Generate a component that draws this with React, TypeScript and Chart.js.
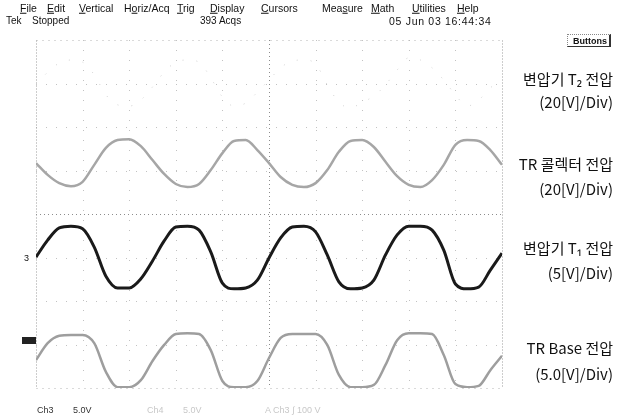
import React, { useEffect, useRef } from "react";
import { Chart, registerables } from "chart.js";

Chart.register(...registerables);

// time axis in screen divisions (10 horizontal divisions)
const timeDiv = [
  0, 0.25, 0.5, 0.75, 1, 1.25, 1.5, 1.75, 2, 2.25, 2.5, 2.75, 3, 3.25, 3.5, 3.75, 4, 4.25, 4.5, 4.75, 5,
  5.25, 5.5, 5.75, 6, 6.25, 6.5, 6.75, 7, 7.25, 7.5, 7.75, 8, 8.25, 8.5, 8.75, 9, 9.25, 9.5, 9.75, 10,
];

// trace levels in screen divisions (8 vertical divisions, 0 = bottom)
const t2Trace = [
  6.97, 7.26, 7.47, 7.54, 7.49, 7.2, 6.74, 6.51, 6.48, 6.62, 6.92, 7.26, 7.49, 7.54, 7.49, 7.13, 6.69, 6.48, 6.55, 6.8, 7.08,
  7.36, 7.52, 7.54, 7.45, 6.97, 6.57, 6.44, 6.57, 6.71, 6.97, 7.31, 7.59, 7.54, 7.36, 7.08, 6.74, 6.48, 6.62, 6.9, 7.08,
];
const collectorTrace = [
  5.17, 4.9, 4.71, 4.64, 4.74, 5.13, 5.52, 5.7, 5.72, 5.56, 5.24, 4.92, 4.69, 4.62, 4.69, 5.01, 5.4, 5.68, 5.7, 5.47, 5.17,
  4.85, 4.67, 4.62, 4.71, 5.01, 5.43, 5.68, 5.7, 5.54, 5.2, 4.87, 4.67, 4.62, 4.78, 5.13, 5.59, 5.7, 5.68, 5.47, 5.13,
];
const t1Trace = [
  3.01, 3.4, 3.68, 3.72, 3.66, 3.24, 2.57, 2.3, 2.3, 2.51, 2.92, 3.38, 3.7, 3.72, 3.63, 3.13, 2.41, 2.28, 2.3, 2.48, 2.99,
  3.45, 3.7, 3.72, 3.59, 3.06, 2.44, 2.28, 2.3, 2.48, 3.06, 3.52, 3.72, 3.72, 3.63, 3.17, 2.39, 2.28, 2.32, 2.71, 3.1,
];
const baseTrace = [
  0.64, 1.03, 1.2, 1.22, 1.22, 1.03, 0.37, 0.02, 0.02, 0.18, 0.62, 0.99, 1.24, 1.26, 1.24, 0.87, 0.16, 0.02, 0.02, 0.16, 0.69,
  1.15, 1.24, 1.24, 1.24, 0.99, 0.3, 0.02, 0.02, 0.07, 0.53, 1.1, 1.26, 1.26, 1.24, 0.76, 0.09, 0.02, 0.05, 0.41, 0.74,
];

const gridX = [0, 1, 2, 3, 4, 5, 6, 7, 8, 9, 10];
const gridY = [0, 1, 2, 3, 4, 5, 6, 7, 8];

const menuItems = ["File", "Edit", "Vertical", "Horiz/Acq", "Trig", "Display", "Cursors", "Measure", "Math", "Utilities", "Help"];
const menuMnemonic = [0, 0, 0, 1, 0, 0, 0, 3, 0, 0, 0];
const menuX = [20, 47, 79, 124, 177, 210, 261, 322, 371, 412, 457];

const labelLines = [
  "변압기 T₂ 전압", "(20[V]/Div)",
  "TR 콜렉터 전압", "(20[V]/Div)",
  "변압기 T₁ 전압", "(5[V]/Div)",
  "TR Base 전압", "(5.0[V]/Div)",
];
const labelY = [78, 101, 163, 188, 247, 272, 347, 373];

const toPoints = (vals: number[]) => vals.map((v, i) => ({ x: timeDiv[i], y: v }));

const graticule = {
  id: "graticule",
  beforeDatasetsDraw(chart: any) {
    const { ctx, chartArea, scales } = chart;
    const { left, right, top, bottom } = chartArea;
    const xs = scales.x;
    const ys = scales.y;
    const line = (x1: number, y1: number, x2: number, y2: number) => {
      ctx.beginPath();
      ctx.moveTo(x1, y1);
      ctx.lineTo(x2, y2);
      ctx.stroke();
    };
    ctx.save();
    ctx.lineWidth = 1;
    ctx.strokeStyle = "#c2c2c2";
    ctx.setLineDash([1, 9]);
    gridX.forEach((g) => {
      if (g === 0 || g === 10 || g === 5) return;
      const px = Math.round(xs.getPixelForValue(g)) + 0.5;
      line(px, top, px, bottom);
    });
    gridY.forEach((g) => {
      if (g === 0 || g === 8 || g === 4) return;
      const py = Math.round(ys.getPixelForValue(g)) + 0.5;
      line(left, py, right, py);
    });
    ctx.strokeStyle = "#8c8c8c";
    ctx.setLineDash([1, 3]);
    const cx = Math.round(xs.getPixelForValue(5)) + 0.5;
    const cy = Math.round(ys.getPixelForValue(4)) + 0.5;
    line(cx, top, cx, bottom);
    line(left, cy, right, cy);
    ctx.strokeStyle = "#9a9a9a";
    ctx.setLineDash([1, 2]);
    const l = Math.round(left) + 0.5;
    const r = Math.round(right) + 0.5;
    const t = Math.round(top) + 0.5;
    const b = Math.round(bottom) + 0.5;
    line(l, t, l, b);
    line(r, t, r, b);
    ctx.strokeStyle = "#b4b4b4";
    ctx.setLineDash([1, 5]);
    line(l, t, r, t);
    line(l, b, r, b);
    ctx.restore();
  },
};

type TxtProps = { x: number; y: number; children: React.ReactNode; size?: number; color?: string; right?: boolean; family?: string; weight?: number; spacing?: number };
const Txt = ({ x, y, children, size = 10, color = "#111", right, family, weight = 400, spacing = 0 }: TxtProps) => (
  <div
    style={{
      position: "absolute",
      top: y,
      ...(right ? { right: 625 - x } : { left: x }),
      transform: "translateY(-50%)",
      fontSize: size,
      lineHeight: 1,
      color,
      whiteSpace: "nowrap",
      fontWeight: weight,
      letterSpacing: spacing,
      fontFamily: family || '"Liberation Sans Narrow", "Liberation Sans", Arial, sans-serif',
    }}
  >
    {children}
  </div>
);

export default function App() {
  const canvasRef = useRef<HTMLCanvasElement | null>(null);

  useEffect(() => {
    if (!canvasRef.current) return;
    const chart = new Chart(canvasRef.current, {
      type: "line",
      data: {
        datasets: [
          {
            label: "변압기 T2 전압",
            data: toPoints(t2Trace),
            borderColor: "#d0d0d0",
            borderWidth: 1,
            borderDash: [1, 13],
            pointRadius: 0,
            cubicInterpolationMode: "monotone",
          },
          {
            label: "TR 콜렉터 전압",
            data: toPoints(collectorTrace),
            borderColor: "#a6a6a6",
            borderWidth: 2.5,
            pointRadius: 0,
            cubicInterpolationMode: "monotone",
          },
          {
            label: "TR Base 전압",
            data: toPoints(baseTrace),
            borderColor: "#9e9e9e",
            borderWidth: 2.5,
            pointRadius: 0,
            cubicInterpolationMode: "monotone",
          },
          {
            label: "변압기 T1 전압",
            data: toPoints(t1Trace),
            borderColor: "#1a1a1a",
            borderWidth: 3,
            pointRadius: 0,
            cubicInterpolationMode: "monotone",
          },
        ],
      },
      options: {
        animation: false,
        responsive: false,
        maintainAspectRatio: false,
        devicePixelRatio: 1,
        layout: { padding: { left: 36, right: 123, top: 40, bottom: 28 } },
        plugins: { legend: { display: false }, tooltip: { enabled: false } },
        scales: {
          x: { type: "linear", min: 0, max: 10, display: false },
          y: { type: "linear", min: 0, max: 8, display: false },
        },
      },
      plugins: [graticule],
    });
    return () => chart.destroy();
  }, []);

  const cjk = '"Noto Sans CJK KR", "Noto Sans", sans-serif';

  return (
    <div style={{ position: "fixed", left: 0, top: 0, width: 625, height: 416, background: "#fff", overflow: "hidden" }}>
      <canvas ref={canvasRef} width={625} height={416} style={{ position: "absolute", left: 0, top: 0, width: 625, height: 416 }} />
      {menuItems.map((m, i) => (
        <Txt key={m} x={menuX[i]} y={8} size={10.5}>
          {m.slice(0, menuMnemonic[i])}
          <u>{m[menuMnemonic[i]]}</u>
          {m.slice(menuMnemonic[i] + 1)}
        </Txt>
      ))}
      <Txt x={6} y={21} size={10}>Tek</Txt>
      <Txt x={32} y={21} size={10}>Stopped</Txt>
      <Txt x={200} y={21} size={10}>393 Acqs</Txt>
      <Txt x={389} y={21} size={10.5} spacing={0.7}>05 Jun 03 16:44:34</Txt>
      <div
        style={{
          position: "absolute",
          left: 567,
          top: 34,
          width: 44,
          height: 13,
          border: "1px dotted #888",
          borderRight: "2px solid #333",
          borderBottom: "1px solid #333",
          boxSizing: "border-box",
        }}
      />
      <Txt x={573} y={41} size={9} weight={700}>Buttons</Txt>
      {labelLines.map((s, i) => (
        <Txt key={i} x={613} y={labelY[i]} size={15} right family={cjk} color="#111">
          {s}
        </Txt>
      ))}
      <Txt x={24} y={258} size={9}>3</Txt>
      <div style={{ position: "absolute", left: 22, top: 337, width: 14, height: 7, background: "#222" }} />
      <Txt x={37} y={410} size={9} color="#333">Ch3</Txt>
      <Txt x={73} y={410} size={9} color="#333">5.0V</Txt>
      <Txt x={147} y={410} size={9} color="#c8c8c8">Ch4</Txt>
      <Txt x={183} y={410} size={9} color="#c8c8c8">5.0V</Txt>
      <Txt x={265} y={410} size={9} color="#c8c8c8">A  Ch3  ∫  100 V</Txt>
    </div>
  );
}
